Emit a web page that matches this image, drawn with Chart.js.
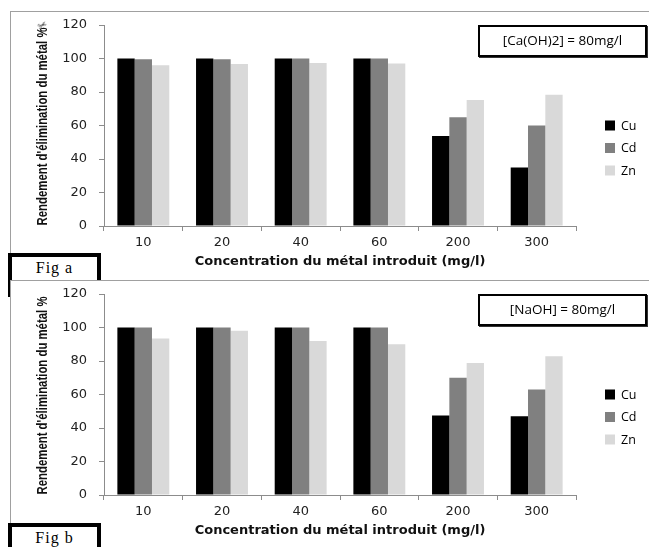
<!DOCTYPE html>
<html>
<head>
<meta charset="utf-8">
<script src="https://cdn.jsdelivr.net/npm/chart.js@4/dist/chart.umd.min.js"></script>
<style>
  html, body { margin: 0; padding: 0; background: #fff; }
  #root { position: relative; width: 649px; height: 547px; overflow: hidden; background: #fff; }
  .panel { position: absolute; left: 10px; width: 660px; background: #fff;
           border-left: 1.5px solid #a0a0a0; border-top: 1.5px solid #a0a0a0; }
  .fig { position: absolute; left: 8px; width: 93px; height: 44px; box-sizing: border-box;
         border: 4px solid #000; background: #fff;
         font-family: 'Liberation Serif', 'DejaVu Serif', serif; font-size: 16px; letter-spacing: 1px;
         text-align: center; line-height: 22px; color: #000; }
  .note { position: absolute; left: 478px; width: 169px; height: 32px; box-sizing: border-box;
          border: 2.5px solid #000; box-shadow: 1px 1px 0 #333; background: #fff;
          font-family: 'Open Sans', 'Liberation Sans', sans-serif; font-size: 13.5px;
          text-align: center; line-height: 27px; color: #000; }
  canvas { position: absolute; left: 0; }
  #scis { position: absolute; left: 38px; top: 19px; font-family: 'DejaVu Sans', sans-serif;
          font-size: 11px; color: #333; transform: rotate(-30deg); }
</style>
</head>
<body>
<div id="root">
  <div class="panel" style="top:11px; height:300px; z-index:1;"></div>
  <canvas id="chartA" width="649" height="270" style="top:0; z-index:2;"></canvas>
  <span id="scis" style="z-index:3;">✂</span>
  <div class="note" style="top:25px; z-index:3;">[Ca(OH)2] = 80mg/l</div>
  <div class="fig" style="top:253px; z-index:3;">Fig a</div>
  <div class="panel" style="top:280px; height:244px; z-index:4;"></div>
  <canvas id="chartB" width="649" height="270" style="top:269px; z-index:5;"></canvas>
  <div class="note" style="top:294px; z-index:6;">[NaOH] = 80mg/l</div>
  <div class="fig" style="top:523px; z-index:6;">Fig b</div>
</div>
<script>
// ---- data ----
const categories = ['10', '20', '40', '60', '200', '300'];
const metals = ['Cu', 'Cd', 'Zn'];
const metalColors = ['#000000', '#808080', '#d9d9d9'];

// Fig a : [Ca(OH)2] = 80 mg/l
const cuA = [100, 100, 100, 100, 53.7, 35.0];
const cdA = [99.5, 99.5, 100, 100, 65.0, 60.0];
const znA = [96.0, 96.7, 97.3, 97.0, 75.2, 78.4];

// Fig b : [NaOH] = 80 mg/l
const cuB = [100, 100, 100, 100, 47.5, 47.0];
const cdB = [100, 100, 100, 100, 70.0, 63.0];
const znB = [93.5, 98.0, 92.0, 90.0, 78.8, 82.8];

const yTicks = [0, 20, 40, 60, 80, 100, 120];
const yTitle = "Rendement d'élimination du métal %";
const xTitle = 'Concentration du métal introduit (mg/l)';

// ---- custom legend (drawn from dataset labels / colours) + condensed y title ----
const extras = {
  id: 'extras',
  afterDraw(chart) {
    const ctx = chart.ctx;
    ctx.save();
    ctx.font = "12.5px 'Open Sans', 'Liberation Sans', sans-serif";
    ctx.textBaseline = 'middle';
    ctx.textAlign = 'left';
    chart.data.datasets.forEach((ds, i) => {
      const cy = 125.5 + i * 22.5;
      ctx.fillStyle = ds.backgroundColor;
      ctx.fillRect(605, cy - 5, 10, 10);
      ctx.fillStyle = '#000';
      ctx.fillText(ds.label, 621, cy + 0.5);
    });
    ctx.restore();

    // y-axis title, narrow bold face
    const ys = chart.scales.y;
    ctx.save();
    ctx.font = "bold 14.5px 'Liberation Sans', 'DejaVu Sans', sans-serif";
    ctx.fillStyle = '#111';
    ctx.textAlign = 'center';
    ctx.textBaseline = 'middle';
    ctx.translate(43, (ys.top + ys.bottom) / 2 + 1);
    ctx.rotate(-Math.PI / 2);
    const w = ctx.measureText(yTitle).width;
    ctx.scale(Math.min(1, 198 / w), 1);
    ctx.fillText(yTitle, 0, 0);
    ctx.restore();
  }
};

function makeChart(id, series) {
  const datasets = series.map((vals, i) => ({
    label: metals[i],
    data: vals,
    backgroundColor: metalColors[i],
    borderWidth: 0,
    categoryPercentage: 0.66,
    barPercentage: 1.0
  }));
  return new Chart(document.getElementById(id), {
    type: 'bar',
    data: { labels: categories, datasets },
    plugins: [extras],
    options: {
      responsive: false,
      animation: false,
      devicePixelRatio: 1,
      layout: { padding: { top: 25, right: 73, left: 0, bottom: 0 } },
      plugins: { legend: { display: false }, tooltip: { enabled: false } },
      scales: {
        x: {
          grid: { display: true, drawOnChartArea: false, drawTicks: true, tickLength: 5, color: '#8c8c8c', offset: true },
          border: { display: true, color: '#8c8c8c' },
          ticks: { color: '#222', padding: 4, font: { family: "'DejaVu Sans', sans-serif", size: 13 } },
          title: { display: true, text: xTitle, color: '#111',
                   font: { family: "'DejaVu Sans', sans-serif", size: 13, weight: 'bold' },
                   padding: { top: 0, bottom: 1 } },
          afterFit(scale) { scale.height = 44; }
        },
        y: {
          min: 0, max: 120,
          afterBuildTicks(scale) { scale.ticks = yTicks.map(v => ({ value: v })); },
          grid: { display: true, drawOnChartArea: false, drawTicks: true, tickLength: 5, color: '#8c8c8c' },
          border: { display: true, color: '#8c8c8c' },
          ticks: { color: '#222', padding: 12, font: { family: "'DejaVu Sans', sans-serif", size: 13 } },
          title: { display: false },
          afterFit(scale) { scale.width = 104; }
        }
      }
    }
  });
}

makeChart('chartA', [cuA, cdA, znA]);
makeChart('chartB', [cuB, cdB, znB]);
</script>
</body>
</html>
